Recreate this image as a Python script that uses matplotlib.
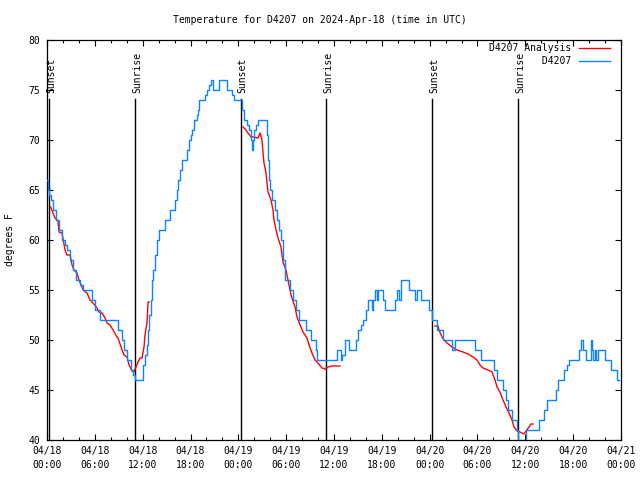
import numpy as np
import matplotlib
matplotlib.use("Agg")
import matplotlib.pyplot as plt
from matplotlib.ticker import MultipleLocator

# ---------------- data ----------------
title = "Temperature for D4207 on 2024-Apr-18 (time in UTC)"
ylabel = "degrees F"
series_names = ["D4207 Analysis", "D4207"]

# observed (blue) - hours since 2024-04-18 00:00 UTC, value starts at that hour (step)
obs_hours = [0.00, 0.13, 0.25, 0.50, 0.75, 1.13, 1.51, 1.88, 2.26, 2.51, 2.89, 3.26, 3.64,
             4.14, 4.52, 5.64, 6.02, 6.65, 8.91, 9.41, 9.66, 10.04, 10.54, 10.79, 11.04,
             12.04, 12.29, 12.54, 12.67, 12.79, 13.05, 13.17, 13.30, 13.55, 13.80, 14.05,
             14.80, 15.43, 16.06, 16.31, 16.43, 16.68, 16.93, 17.56, 17.81, 18.06, 18.19,
             18.44, 18.82, 18.94, 19.07, 19.82, 20.07, 20.32, 20.57, 20.82, 21.58, 22.58,
             23.21, 23.46, 24.46, 24.71, 25.09, 25.34, 25.59, 25.72, 25.84, 25.97, 26.22,
             26.47, 27.60, 27.72, 27.85, 27.97, 28.22, 28.60, 28.85, 29.10, 29.35, 29.60,
             29.85, 30.48, 30.86, 31.23, 31.61, 32.49, 33.12, 33.74, 33.87, 36.38, 36.88,
             37.00, 37.38, 37.88, 38.76, 39.01, 39.39, 39.64, 40.02, 40.27, 40.77, 40.89,
             41.14, 41.39, 41.52, 42.15, 42.40, 43.65, 43.90, 44.15, 44.41, 45.41, 46.16,
             46.41, 46.91, 47.92, 48.29, 48.92, 49.67, 50.80, 51.18, 53.69, 54.44, 56.07,
             56.45, 57.20, 57.58, 57.83, 58.33, 58.96, 59.08, 60.09, 61.72, 62.34, 62.72,
             63.85, 64.10, 64.85, 65.23, 65.48, 66.73, 66.98, 67.24, 67.61, 68.24, 68.37,
             68.49, 68.74, 68.87, 69.12, 69.99, 70.75, 71.50, 71.75]
obs_temps = [66, 65, 64.5, 64, 63, 62, 61, 60, 59.5, 59, 58, 57, 56,
             55.5, 55, 54, 53, 52, 51, 50, 49, 48, 47, 46.5, 46,
             47.5, 48.5, 49.5, 51, 52.5, 54, 56, 57, 58.5, 60, 61,
             62, 63, 64, 65, 66, 67, 68, 69, 70, 70.5, 71,
             72, 72.5, 73, 74, 74.5, 75, 75.5, 76, 75, 76, 75,
             74.5, 74, 73, 72, 71.5, 71, 70, 69, 70, 71, 71.5,
             72, 70.5, 68, 66, 65, 64, 63, 62, 61, 60, 58,
             56, 55, 54, 53, 52, 51, 50, 49, 48, 49, 48,
             48.5, 50, 49, 50, 51, 51.5, 52, 53, 54, 53, 54,
             55, 54, 55, 54, 53, 54, 55, 54, 56, 55, 54,
             55, 54, 53, 52, 51, 50, 49, 50, 49, 48, 47,
             46, 45, 44, 43, 42, 41, 40, 41, 42, 43, 44,
             45, 46, 47, 47.5, 48, 49, 50, 49, 48, 50, 49,
             48, 49, 48, 49, 48, 47, 46, 46]

# analysis (red) - three segments separated by gaps
ana_hours = [0.46, 1.00, 1.38, 1.51, 1.88, 2.13, 2.26, 2.51, 2.89, 3.14, 3.39, 3.76, 4.01,
             4.39, 4.52, 5.02, 5.39, 5.77, 6.27, 6.52, 6.90, 7.28, 7.53, 7.90, 8.28, 8.78,
             8.91, 9.41, 9.66, 10.04, 10.29, 10.66, 10.91, 11.16, 11.42, 11.67, 11.92,
             12.17, 12.29, 12.54, 12.60, 12.67, 12.79,
             np.nan,
             24.59, 24.96, 25.21, 25.59, 25.84, 26.47, 26.72, 26.97, 27.10, 27.22, 27.47,
             27.60, 27.72, 28.10, 28.35, 28.47, 28.73, 28.98, 29.35, 29.60, 29.98, 30.23,
             30.61, 31.11, 31.36, 31.74, 32.11, 32.61, 32.87, 33.24, 33.62, 33.99, 34.50,
             34.87, 35.25, 35.75, 36.75,
             np.nan,
             48.67, 49.05, 49.17, 49.55, 49.80, 50.18, 50.80, 51.43, 52.18, 52.81, 53.44,
             53.94, 54.32, 54.69, 55.32, 55.82, 56.20, 56.45, 56.82, 57.20, 57.58, 57.95,
             58.33, 58.58, 58.96, 59.33, 59.83, 60.09, 60.46, 60.71, 60.96]
ana_temps = [63.3, 62.2, 61.9, 60.8, 60.7, 59.6, 59.0, 58.5, 58.5, 57.5, 57.0, 56.7, 56.0,
             55.3, 55.0, 54.7, 54.0, 53.7, 53.2, 52.8, 52.7, 52.2, 51.7, 51.5, 51.0, 50.3,
             50.2, 49.0, 48.5, 48.3, 47.5, 46.9, 46.8, 47.3, 47.8, 48.2, 48.2,
             49.3, 50.5, 51.7, 52.5, 53.8, 53.8,
             np.nan,
             71.3, 71.0, 70.7, 70.3, 70.3, 70.2, 70.7, 70.0, 68.7, 67.7, 66.7,
             65.7, 64.8, 64.0, 63.0, 62.0, 61.0, 60.2, 59.3, 57.8, 57.0, 56.0,
             54.5, 53.3, 52.3, 51.5, 50.8, 50.2, 49.5, 48.7, 48.0, 47.7, 47.2,
             47.1, 47.3, 47.4, 47.4,
             np.nan,
             51.4, 51.4, 51.0, 50.3, 50.0, 49.7, 49.3, 49.0, 48.8, 48.6, 48.3,
             48.0, 47.5, 47.2, 47.0, 46.8, 46.0, 45.3, 44.8, 44.0, 43.3, 42.7,
             42.0, 41.3, 40.9, 40.8, 40.6, 40.9, 41.3, 41.6, 41.6]

# sun events (hours since start)
sun_hours = [0.29, 11.08, 24.34, 35.04, 48.34, 59.13]
sun_labels = ["Sunset", "Sunrise", "Sunset", "Sunrise", "Sunset", "Sunrise"]

xtick_hours = list(range(0, 73, 6))
xtick_labels = ["04/18\n00:00", "04/18\n06:00", "04/18\n12:00", "04/18\n18:00",
                "04/19\n00:00", "04/19\n06:00", "04/19\n12:00", "04/19\n18:00",
                "04/20\n00:00", "04/20\n06:00", "04/20\n12:00", "04/20\n18:00",
                "04/21\n00:00"]
yticks = [40, 45, 50, 55, 60, 65, 70, 75, 80]

# ---------------- plot ----------------
FONT = "DejaVu Sans Mono"
FS = 6.6
plt.rcParams['font.family'] = [FONT]
plt.rcParams['font.size'] = FS

fig = plt.figure(figsize=(6.4, 4.8), dpi=100)
ax = fig.add_axes([47/640, 40/480, 574/640, 400/480])

red = "#ff0000"
blue = "#0a84ff"

l1, = ax.plot(ana_hours, ana_temps, color=red, lw=1.0, zorder=3)
l2, = ax.plot(obs_hours, obs_temps, color=blue, lw=1.0, drawstyle="steps-post", zorder=4)

for h, lab in zip(sun_hours, sun_labels):
    ax.axvline(h, ymin=0, ymax=0.852, color="black", lw=1.0, zorder=2)
    ax.text(h + 0.2, 0.868, lab, transform=ax.get_xaxis_transform(), rotation=90,
            ha="center", va="bottom", fontsize=FS + 0.4)

ax.set_xlim(0, 72)
ax.set_ylim(40, 80)
ax.set_xticks(xtick_hours)
ax.set_xticklabels(xtick_labels, fontsize=FS + 0.4, linespacing=1.5)
ax.xaxis.set_minor_locator(MultipleLocator(2))
ax.set_yticks(yticks)
ax.set_yticklabels([str(v) for v in yticks], fontsize=FS + 0.4)
ax.tick_params(axis="both", which="major", direction="in", length=4, width=0.8,
               top=True, right=True, pad=5)
ax.tick_params(axis="x", which="minor", direction="in", length=2.2, width=0.8,
               top=True, bottom=True)
ax.tick_params(axis="x", which="major", pad=4)
for s in ax.spines.values():
    s.set_linewidth(0.9)

width = max(len(n) for n in series_names)
leg = ax.legend([l1, l2], [n.rjust(width) for n in series_names],
                loc="upper right", bbox_to_anchor=((610 - 47) / 574, (440 - 43) / 400),
                frameon=False, markerfirst=False, borderpad=0, borderaxespad=0,
                handlelength=3.2, handletextpad=0.8, labelspacing=0.35,
                prop={"family": FONT, "size": FS + 0.4})

fig.text(0.5, 1 - 20/480, title, ha="center", va="center", fontsize=FS + 0.4)
fig.text(10/640, 0.5, ylabel, rotation=90, ha="center", va="center", fontsize=FS + 0.4)

fig.savefig("out.png", dpi=100)
